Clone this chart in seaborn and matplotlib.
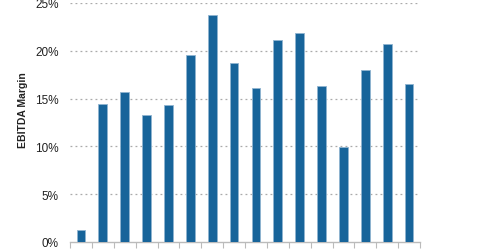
import matplotlib
matplotlib.use("Agg")
import matplotlib.pyplot as plt
import seaborn as sns
import pandas as pd
from matplotlib.ticker import FuncFormatter

periods = [f"P{i}" for i in range(1, 17)]
margins = [1.3, 14.4, 15.7, 13.3, 14.3, 19.6, 23.7, 18.7,
           16.1, 21.1, 21.9, 16.3, 9.9, 18.0, 20.7, 16.5]
y_ticks = [0, 5, 10, 15, 20, 25]

df = pd.DataFrame({"period": periods, "margin": margins})

sns.set_theme(style="white")
plt.rcParams['font.family'] = ['Liberation Sans', 'DejaVu Sans']

fig = plt.figure(figsize=(4.8, 2.51), dpi=100)
ax = fig.add_axes([70/480, 8/251, 350/480, 239/251])

sns.barplot(data=df, x="period", y="margin", color="#17649a", width=0.4,
            saturation=1, edgecolor="#8fb4d0", linewidth=0.6, ax=ax, zorder=3)

ax.set_ylim(0, 25)
ax.set_xlim(-0.5, 15.5)
ax.set_yticks(y_ticks)
ax.yaxis.set_major_formatter(FuncFormatter(lambda v, p: f"{int(v)}%"))
ax.tick_params(axis='y', labelsize=8.5, colors="#222222", length=0, pad=8)
ax.set_xticks([i - 0.5 for i in range(17)])
ax.set_xticklabels([])
ax.tick_params(axis='x', length=4, width=0.8, color="#bbbbbb", direction='out', bottom=True)

for v in y_ticks[1:]:
    ax.axhline(v, color="#aaaaaa", linestyle=(0, (1.5, 2.5)), linewidth=0.9, zorder=1)

for s in ["top", "right", "left"]:
    ax.spines[s].set_visible(False)
ax.spines["bottom"].set_color("#bbbbbb")
ax.spines["bottom"].set_linewidth(1)

ax.set_xlabel("")
ax.set_ylabel("EBITDA Margin", fontsize=7.5, fontweight="bold", color="#222222")
ax.yaxis.set_label_coords(-0.12, 0.556)

fig.savefig("out.png", dpi=100)
